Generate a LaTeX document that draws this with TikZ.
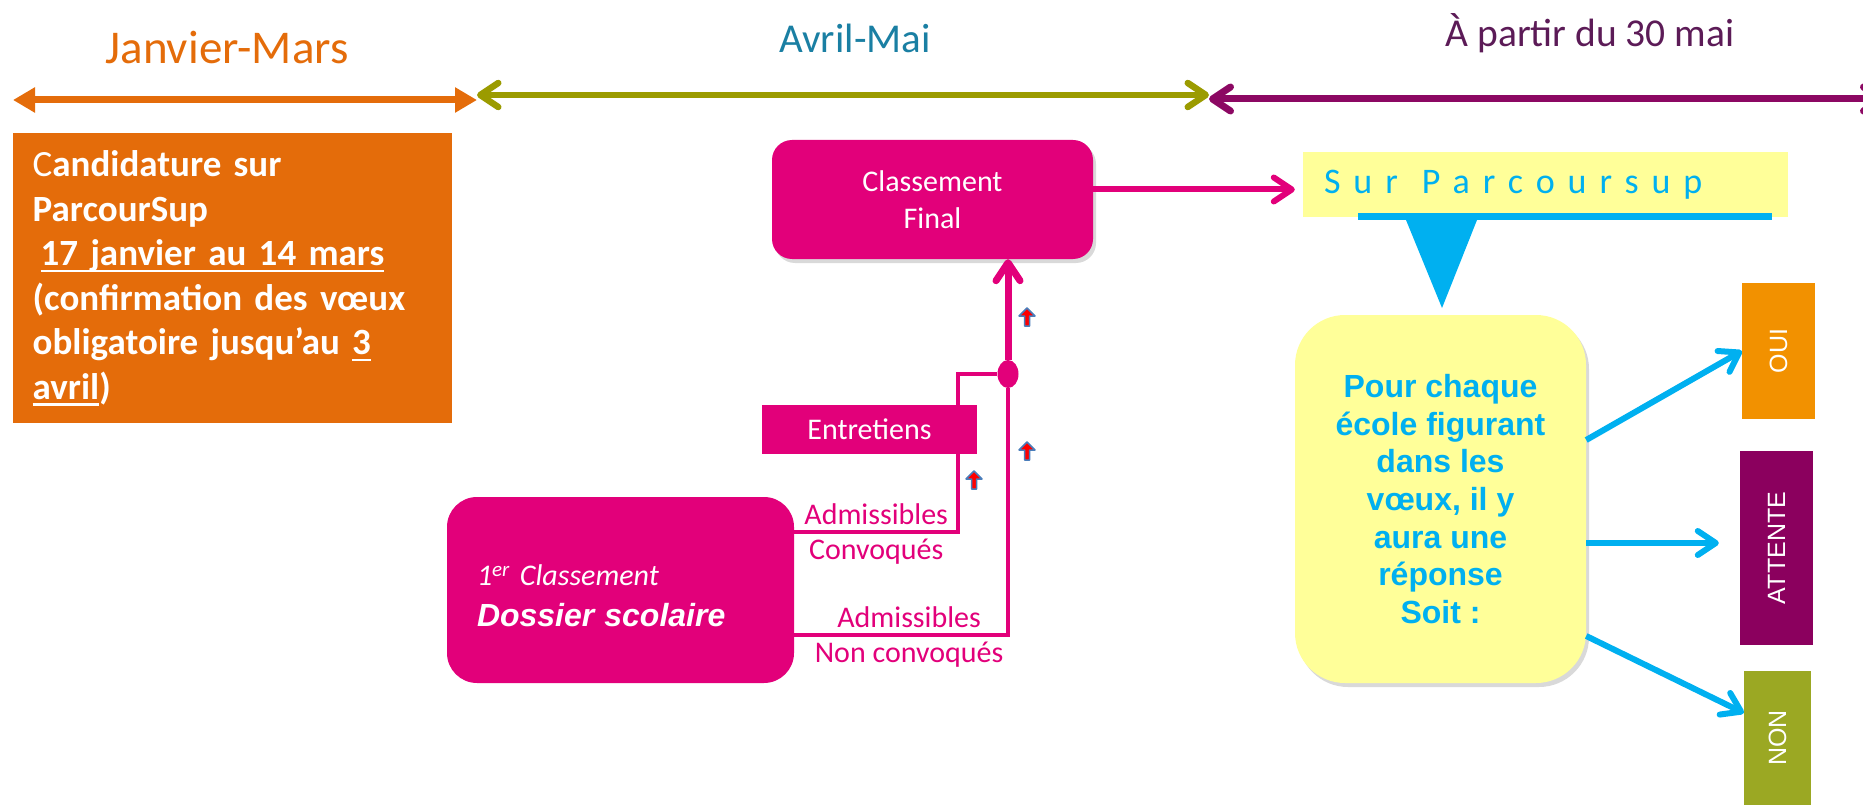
\documentclass[tikz,border=0pt]{standalone}
\usepackage{fontspec}
\setmainfont{Carlito}
\newfontfamily\arialfont{Liberation Sans}
\newcommand{\undl}[1]{\leavevmode\setbox0\hbox{#1}\rlap{\vrule height -4pt depth 6.4pt width \wd0}\box0}
\usetikzlibrary{arrows.meta, positioning, shapes.geometric, shadows}
\definecolor{janorange}{HTML}{E46C0A}
\definecolor{avrteal}{HTML}{1A7FA3}
\definecolor{avrolive}{HTML}{9B9B00}
\definecolor{maipurple}{HTML}{5C1B57}
\definecolor{maiarrow}{HTML}{8C0863}
\definecolor{fuchsia}{HTML}{E2007A}
\definecolor{paleyellow}{HTML}{FFFF99}
\definecolor{skyblue}{HTML}{00B0F0}
\definecolor{ouiorange}{HTML}{F29100}
\definecolor{attpurple}{HTML}{8B005E}
\definecolor{nonolive}{HTML}{9BA823}
\definecolor{markblue}{HTML}{4A7EBB}
\tikzstyle{period} = [line width=7pt]
\tikzstyle{title} = [inner sep=0pt]
\tikzstyle{block} = [inner sep=0pt, text=white, align=center]
\tikzstyle{stage} = [block, fill=fuchsia, rounded corners=20pt]
\tikzstyle{answer} = [block, rotate=90, font=\arialfont\fontsize{25}{30}\selectfont]
\tikzstyle{label} = [text=fuchsia, font=\fontsize{30}{36}\selectfont, inner sep=5pt]
\tikzstyle{link} = [draw=fuchsia, line width=4.5pt]
\tikzstyle{flow} = [-{Straight Barb[length=18pt, width=24pt, round]}, line width=6pt]
\tikzstyle{uparrow} = [fill=red, draw=markblue, line width=1.5pt, line join=round]

\begin{document}
\begin{tikzpicture}[x=1pt, y=-1pt]
    \useasboundingbox (0,0) rectangle (1863,805);

    % Periods.
    \node (jan title) [title, text=janorange, font=\fontsize{47}{56}\selectfont] at (227,48) {Janvier-Mars};
    \node (avr title) [title, text=avrteal, font=\fontsize{41}{49}\selectfont] at (855,38) {Avril-Mai};
    \node (mai title) [title, text=maipurple, font=\fontsize{39.5}{46}\selectfont] at (1590,33) {À partir du 30 mai};
    \coordinate (jan start) at (13,100);
    \coordinate (jan end) at (477,100);
    \coordinate (avr start) at (477,95);
    \coordinate (avr end) at (1209,95);
    \coordinate (mai start) at (1209,99);
    \coordinate (mai end) at (1885,99);
    \draw [period, janorange, {Triangle[length=22pt, width=24pt]}-{Triangle[length=22pt, width=24pt]}] (jan start) -- (jan end);
    \draw [period, avrolive, line width=6.5pt, {Straight Barb[length=18pt, width=24pt, round]}-{Straight Barb[length=18pt, width=24pt, round]}] (avr start) -- (avr end);
    \draw [period, maiarrow, {Straight Barb[length=18pt, width=24pt, round]}-{Straight Barb[length=18pt, width=24pt, round]}] (mai start) -- (mai end);

    % Boxes.
    \node (apply) [block, fill=janorange, anchor=north west, minimum width=439pt, minimum height=290pt,
        text width=400pt, inner xsep=19.5pt, align=left, font=\bfseries\fontsize{37}{44.5}\selectfont] at (13,133)
        {{\mdseries C}andidature sur\\ ParcourSup\\ \hspace*{8pt}\undl{17 janvier au 14 mars}\\ (confirmation des vœux\\ obligatoire jusqu’au \undl{3}\\ \undl{avril})};
    \node (final) [stage, drop shadow={opacity=0.3, shadow xshift=3pt, shadow yshift=-4pt}, minimum width=321pt, minimum height=119pt,
        font=\fontsize{30}{37}\selectfont] at (932.5,199.5) {Classement\\Final};
    \node (interview) [block, fill=fuchsia, minimum width=215pt, minimum height=49pt, font=\fontsize{30}{36}\selectfont] at (869.5,429.5) {Entretiens};
    \node (dossier) [stage, rounded corners=30pt, minimum width=347pt, minimum height=186pt, text width=287pt, inner xsep=30pt,
        align=left, font=\fontsize{30}{38}\selectfont] at (620.5,590)
        {\rule{0pt}{32pt}\itshape 1\textsuperscript{er} Classement\\[3pt] {\arialfont\bfseries\itshape\fontsize{32}{38}\selectfont Dossier scolaire}};
    \node (join) [ellipse, fill=fuchsia, minimum width=21pt, minimum height=28pt, inner sep=0pt] at (1008,374) {};
    \node (sur) [fill=paleyellow, minimum width=485pt, minimum height=65pt, text width=443pt, inner xsep=21pt, inner ysep=0pt,
        align=left, text=skyblue, font=\fontsize{36}{44}\selectfont\addfontfeature{LetterSpace=36}] at (1545.5,184.5) {Sur\hspace{12pt} Parcoursup};
    \node (choice) [fill=paleyellow, rounded corners=50pt, drop shadow={opacity=0.3, shadow xshift=3pt, shadow yshift=-4pt},
        minimum width=291pt, minimum height=368pt, inner sep=0pt, text=skyblue, align=center,
        font=\arialfont\bfseries\fontsize{32}{37.6}\selectfont] at (1440.5,499)
        {Pour chaque\\école figurant\\dans les\\vœux, il y\\aura une\\réponse\\Soit :};
    \node (oui) [answer, fill=ouiorange, minimum width=136pt, minimum height=73pt] at (1778.5,351) {OUI};
    \node (attente) [answer, fill=attpurple, minimum width=194pt, minimum height=73pt] at (1776.5,548) {ATTENTE};
    \node (non) [answer, fill=nonolive, minimum width=134pt, minimum height=67pt] at (1777.5,738) {NON};

    % Callout under Parcoursup.
    \fill [skyblue] (1358,213) rectangle (1772,220);
    \fill [skyblue] (1406,220) -- (1477,220) -- (1442,308) -- cycle;

    % Arrows.
    \draw [link] ([yshift=58pt]dossier.east) -| node [label, pos=0.25, above] {Admissibles}
        node [label, pos=0.25, below] {Convoqués} ([xshift=-19pt]interview.south east);
    \draw [link] ([xshift=-19pt]interview.north east) |- (join);
    \draw [link] ([yshift=-45pt]dossier.east) -| node [label, pos=0.25, above, xshift=8pt] {Admissibles}
        node [label, pos=0.25, below, xshift=8pt] {Non convoqués} (join);
    \draw [flow, fuchsia, line width=7pt] (join.north) -- (join |- final.south);
    \draw [flow, fuchsia] ([yshift=10pt]final.east) -- ([xshift=-8pt, yshift=-5pt]sur.west);

    \coordinate (wait tip) at ([xshift=-21pt, yshift=5pt]attente.north);
    \draw [flow, skyblue] ([yshift=59pt]choice.east) -- (oui.north);
    \draw [flow, skyblue] ([yshift=-44pt]choice.east) -- (wait tip);
    \draw [flow, skyblue] ([yshift=-137pt]choice.east) -- ([yshift=25pt]non.north);

    \foreach \x/\y in {974/480, 1027/317, 1027/451} {%
        \filldraw [uparrow] (\x,\y) ++(0,-9) -- ++(8,8) -- ++(-5.5,0) -- ++(0,10) -- ++(-5,0) -- ++(0,-10) -- ++(-5.5,0) -- cycle;
    }
\end{tikzpicture}
\end{document}
